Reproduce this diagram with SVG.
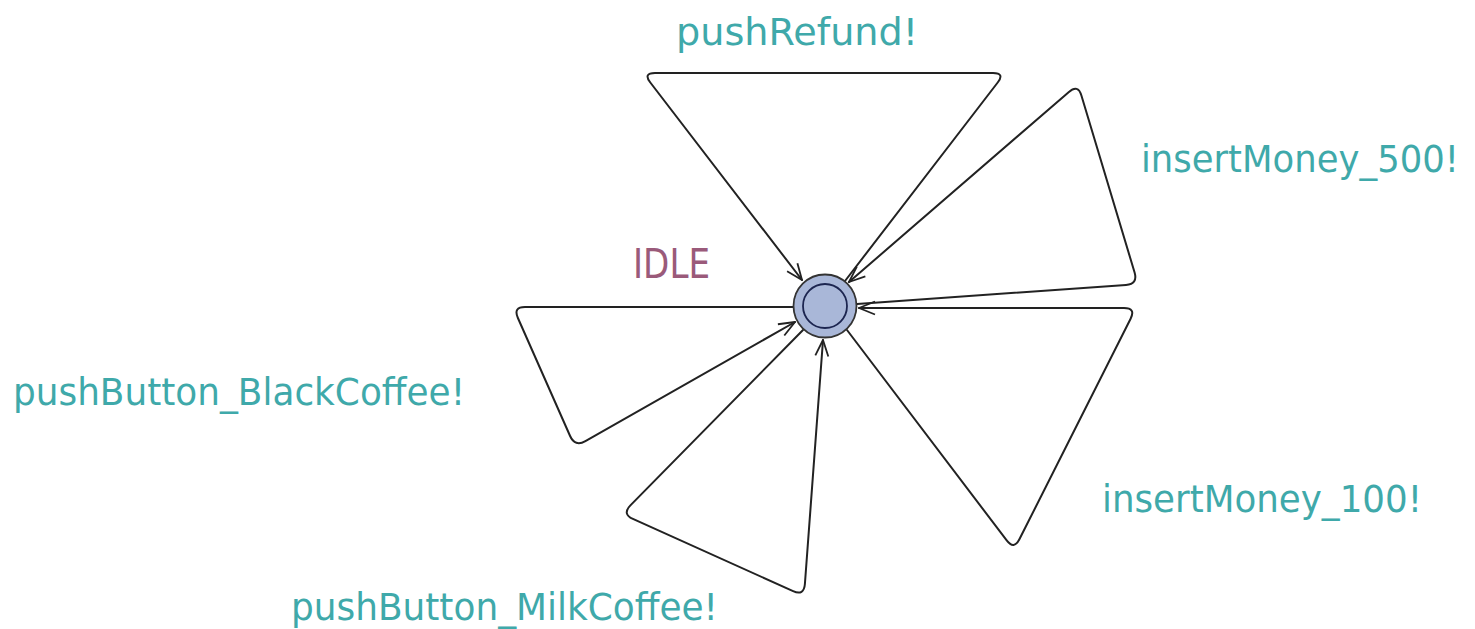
<svg xmlns="http://www.w3.org/2000/svg" width="1475" height="629" viewBox="0 0 1475 629">
  <style>
    .edge { fill: none; stroke: #222; stroke-width: 2; stroke-linejoin: round; stroke-linecap: round; marker-end: url(#arr); }
    .sync { font-family: "DejaVu Sans", "Liberation Sans", sans-serif; font-size: 37px; fill: #3fa9aa; }
    .name { font-family: "DejaVu Sans", "Liberation Sans", sans-serif; font-size: 40px; fill: #9a5a7a; }
  </style>
  <defs>
    <marker id="arr" markerUnits="userSpaceOnUse" markerWidth="22" markerHeight="18" refX="18" refY="9" orient="auto" viewBox="0 0 22 18">
      <path d="M2,2.5 L18,9 L2,15.5" fill="none" stroke="#222" stroke-width="1.8" stroke-linejoin="round"/>
    </marker>
  </defs>
  <rect width="1475" height="629" fill="#ffffff"/>
  <g id="connectors">
    <path id="e-pushRefund" class="edge" d="M845,281 L997.7,82.5 Q1005,73 993,73 L655,73 Q643,73 650.3,82.5 L802,280"/>
    <path id="e-insertMoney_500" class="edge" d="M857,304 L1126,284.9 Q1138,284 1134.6,272.5 L1081.4,95.5 Q1078,84 1068.9,91.9 L849,282"/>
    <path id="e-insertMoney_100" class="edge" d="M847,330 L1006.7,540.4 Q1014,550 1019.4,539.3 L1130.6,318.7 Q1136,308 1124,308 L859,308"/>
    <path id="e-pushButton_MilkCoffee" class="edge" d="M803,330 L630.4,505.4 Q622,514 632.9,518.9 L793.1,591.1 Q804,596 804.9,584 L823,340"/>
    <path id="e-pushButton_BlackCoffee" class="edge" d="M793,307 L525,307 Q513,307 517.9,318 L570.1,436 Q575,447 585.4,441.1 L795,322"/>
  </g>
  <g id="node-IDLE">
    <circle cx="825" cy="306" r="31.5" fill="#a9b7d8" stroke="#333" stroke-width="1.8"/>
    <circle cx="825" cy="306" r="22" fill="#a9b7d8" stroke="#1c2550" stroke-width="1.8"/>
    <text class="name" x="633" y="278" textLength="77" lengthAdjust="spacingAndGlyphs">IDLE</text>
  </g>
  <g id="labels">
    <text class="sync" x="676" y="45" textLength="242" lengthAdjust="spacingAndGlyphs">pushRefund!</text>
    <text class="sync" x="1141" y="172" textLength="318" lengthAdjust="spacingAndGlyphs">insertMoney_500!</text>
    <text class="sync" x="13" y="405" textLength="452" lengthAdjust="spacingAndGlyphs">pushButton_BlackCoffee!</text>
    <text class="sync" x="1102" y="512" textLength="320" lengthAdjust="spacingAndGlyphs">insertMoney_100!</text>
    <text class="sync" x="291" y="620" textLength="427" lengthAdjust="spacingAndGlyphs">pushButton_MilkCoffee!</text>
  </g>
</svg>
